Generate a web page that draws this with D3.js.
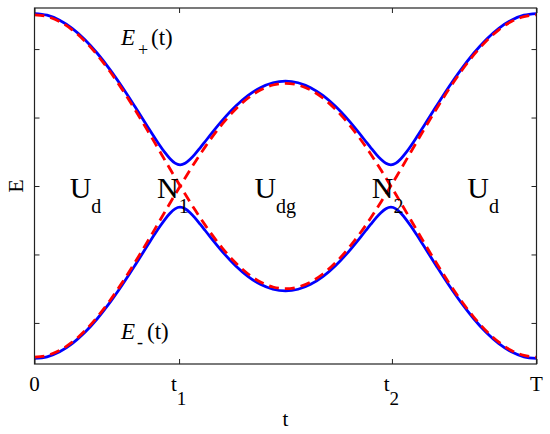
<!DOCTYPE html>
<html>
<head>
<meta charset="utf-8">
<script src="https://cdn.jsdelivr.net/npm/d3@7"></script>
<style>
  body { margin: 0; background: #fff; }
  svg { display: block; }
  text { font-family: "Liberation Serif", "Times New Roman", serif; fill: #000; }
</style>
</head>
<body>
<svg id="chart" width="550" height="434"></svg>
<script>
// ---- data (t in units of T) ----
const tValues = [0,0.025,0.05,0.075,0.1,0.125,0.15,0.175,0.2,0.225,0.24,0.25,0.26,0.27,0.28,0.29,0.30,0.31,0.32,0.33,0.34,0.35,0.375,0.4,0.425,0.45,0.475,0.5,
  0.525,0.55,0.575,0.6,0.625,0.65,0.66,0.67,0.68,0.69,0.70,0.71,0.72,0.73,0.74,0.75,0.76,0.775,0.8,0.825,0.85,0.875,0.9,0.925,0.95,0.975,1];
const ePlus = [2.519,2.495,2.422,2.303,2.141,1.939,1.704,1.442,1.160,0.870,0.698,0.588,0.486,0.398,0.334,0.310,0.332,0.390,0.469,0.558,0.650,0.743,0.965,1.160,1.319,1.436,1.508,1.532,
  1.508,1.436,1.319,1.160,0.965,0.743,0.650,0.558,0.469,0.390,0.332,0.310,0.334,0.398,0.486,0.588,0.698,0.870,1.160,1.442,1.704,1.939,2.141,2.303,2.422,2.495,2.519];
const eMinus = [-2.519,-2.495,-2.422,-2.303,-2.141,-1.939,-1.704,-1.442,-1.160,-0.870,-0.698,-0.588,-0.486,-0.398,-0.334,-0.310,-0.332,-0.390,-0.469,-0.558,-0.650,-0.743,-0.965,-1.160,-1.319,-1.436,-1.508,-1.532,
  -1.508,-1.436,-1.319,-1.160,-0.965,-0.743,-0.650,-0.558,-0.469,-0.390,-0.332,-0.310,-0.334,-0.398,-0.486,-0.588,-0.698,-0.870,-1.160,-1.442,-1.704,-1.939,-2.141,-2.303,-2.422,-2.495,-2.519];
const diabaticA = [2.5,2.475,2.402,2.282,2.118,1.914,1.676,1.408,1.118,0.813,0.626,0.5,0.374,0.249,0.125,0.003,-0.118,-0.236,-0.352,-0.464,-0.572,-0.676,-0.914,-1.118,-1.282,-1.402,-1.475,-1.5,
  -1.475,-1.402,-1.282,-1.118,-0.914,-0.676,-0.572,-0.464,-0.352,-0.236,-0.118,0.003,0.125,0.249,0.374,0.5,0.626,0.813,1.118,1.408,1.676,1.914,2.118,2.282,2.402,2.475,2.5];
const diabaticB = [-2.5,-2.475,-2.402,-2.282,-2.118,-1.914,-1.676,-1.408,-1.118,-0.813,-0.626,-0.5,-0.374,-0.249,-0.125,-0.003,0.118,0.236,0.352,0.464,0.572,0.676,0.914,1.118,1.282,1.402,1.475,1.5,
  1.475,1.402,1.282,1.118,0.914,0.676,0.572,0.464,0.352,0.236,0.118,-0.003,-0.125,-0.249,-0.374,-0.5,-0.626,-0.813,-1.118,-1.408,-1.676,-1.914,-2.118,-2.282,-2.402,-2.475,-2.5];

const xTickValues = [0, 0.288, 0.712, 1];
const xTickMain = ["0", "t", "t", "T"];
const xTickSub = ["", "1", "2", ""];
const yTickValues = [-2, -1, 0, 1, 2];

const regionLabels = [
  {main: "U", sub: "d",  t: 0.07,  e: -0.17},
  {main: "N", sub: "1",  t: 0.244, e: -0.17},
  {main: "U", sub: "dg", t: 0.438, e: -0.17},
  {main: "N", sub: "2",  t: 0.672, e: -0.17},
  {main: "U", sub: "d",  t: 0.862, e: -0.17}
];

// ---- layout ----
const svg = d3.select("#chart");
const L = 34.5, R = 536.5, T = 8, B = 364;
const x = d3.scaleLinear().domain([0, 1]).range([L, R]);
const y = d3.scaleLinear().domain([-2.6, 2.6]).range([B, T]);

const line = (vals) => d3.line()
  .x((d, i) => x(tValues[i]))
  .y(d => y(d))
  .curve(d3.curveMonotoneX)(vals);

const plot = svg.append("g");
[ePlus, eMinus].forEach(v => {
  plot.append("path").attr("d", line(v))
    .attr("fill", "none").attr("stroke", "#0000ff").attr("stroke-width", 2.8);
});
[diabaticA, diabaticB].forEach(v => {
  plot.append("path").attr("d", line(v))
    .attr("fill", "none").attr("stroke", "#ff0000").attr("stroke-width", 2.8)
    .attr("stroke-dasharray", "10,6");
});

// ---- axes (inward ticks) ----
const axStyle = g => {
  g.select(".domain").remove();
  g.selectAll("line").attr("stroke", "#222").attr("stroke-width", 1);
  g.selectAll("text").remove();
};
svg.append("g").attr("transform", `translate(0,${B})`)
  .call(d3.axisBottom(x).tickValues(xTickValues).tickSize(-5).tickFormat("")).call(axStyle);
svg.append("g").attr("transform", `translate(0,${T})`)
  .call(d3.axisTop(x).tickValues(xTickValues).tickSize(-5).tickFormat("")).call(axStyle);
svg.append("g").attr("transform", `translate(${L},0)`)
  .call(d3.axisLeft(y).tickValues(yTickValues).tickSize(-5).tickFormat("")).call(axStyle);
svg.append("g").attr("transform", `translate(${R},0)`)
  .call(d3.axisRight(y).tickValues(yTickValues).tickSize(-5).tickFormat("")).call(axStyle);

svg.append("rect").attr("x", L).attr("y", T).attr("width", R - L).attr("height", B - T)
  .attr("fill", "none").attr("stroke", "#222").attr("stroke-width", 1.2);

// ---- tick labels ----
xTickValues.forEach((v, i) => {
  const txt = svg.append("text").attr("x", x(v)).attr("y", 391)
    .attr("font-size", 21).attr("text-anchor", "middle");
  if (xTickSub[i]) {
    txt.attr("x", x(v) - 0.5);
    txt.append("tspan").text(xTickMain[i]);
    txt.append("tspan").attr("font-size", 19).attr("dy", 14).text(xTickSub[i]);
  } else {
    txt.text(xTickMain[i]);
  }
});

// axis titles
svg.append("text").attr("x", x(0.5)).attr("y", 426).attr("font-size", 21)
  .attr("text-anchor", "middle").text("t");
svg.append("text").attr("transform", `translate(23,${y(0)}) rotate(-90)`)
  .attr("font-size", 22).attr("text-anchor", "middle").text("E");

// E+(t), E-(t)
const eLab = (xp, yp, sign, signX, parX, signDy) => {
  const t = svg.append("text").attr("y", yp).attr("font-size", 23);
  t.append("tspan").attr("x", xp).attr("font-style", "italic").text("E");
  t.append("tspan").attr("x", signX).attr("font-size", 18).attr("dy", signDy).text(sign);
  t.append("tspan").attr("x", parX).attr("dy", -signDy).text("(t)");
};
eLab(121, 45, "+", 138, 151, 11);
eLab(121, 339, "-", 137, 147, 9);

// region labels
regionLabels.forEach(d => {
  const t = svg.append("text").attr("x", x(d.t)).attr("y", y(d.e)).attr("font-size", 30);
  t.append("tspan").text(d.main);
  t.append("tspan").attr("font-size", 20).attr("dy", 15).text(d.sub);
});
</script>
</body>
</html>
